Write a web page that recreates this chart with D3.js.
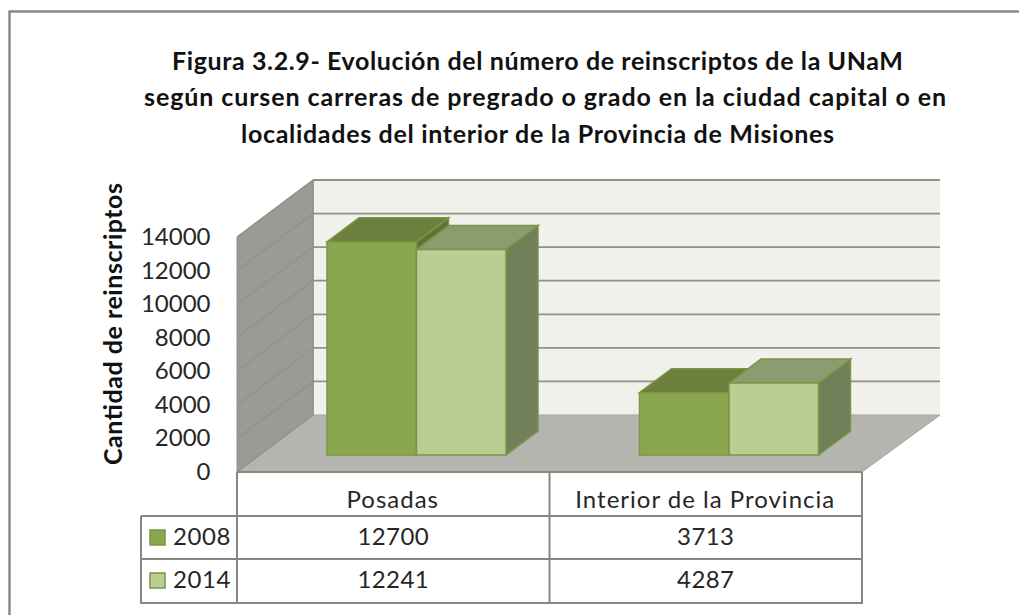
<!DOCTYPE html>
<html><head><meta charset="utf-8">
<script src="https://cdn.jsdelivr.net/npm/d3@7"></script>
<style>html,body{margin:0;padding:0;background:#fff;overflow:hidden}svg{display:block}text{font-family:Lato,"Open Sans",sans-serif}</style>
</head><body><div id="c"></div>
<script>
const categories = ["Posadas", "Interior de la Provincia"];
const seriesNames = ["2008", "2014"];
const values2008 = [12700, 3713];
const values2014 = [12241, 4287];
const yTicks = [0, 2000, 4000, 6000, 8000, 10000, 12000, 14000];
const titleLines = ["Figura 3.2.9- Evolución del número de reinscriptos de la UNaM",
  "según cursen carreras de pregrado o grado en la ciudad capital o en",
  "localidades del interior de la Provincia de Misiones"];
const yTitle = "Cantidad de reinscriptos";

const W = 1019, H = 615;
const svg = d3.select("#c").append("svg").attr("width", W).attr("height", H);
const frameCol = "#868686", gridCol = "#8f918a", txt = "#262626";
svg.append("rect").attr("x",9.5).attr("y",11.5).attr("width",1040).attr("height",640).attr("fill","#fff").attr("stroke",frameCol).attr("stroke-width",2.4);

const x = d3.scaleBand().domain(categories).range([237, 862]);
const y = d3.scaleLinear().domain([0,14000]).range([472,237]);
const dx = 76, dxR = 78, dy = -57;
const poly = (pts, fill, stroke, sw) => svg.append("polygon").attr("points", pts.map(p=>p.join(",")).join(" ")).attr("fill",fill).attr("stroke",stroke||"none").attr("stroke-width",sw||1);

// back wall, side wall, floor
const xL = x.range()[0], xR = x.range()[1];
poly([[xL+dx,y(14000)+dy],[xR+dxR,y(14000)+dy],[xR+dxR,y(0)+dy],[xL+dx,y(0)+dy]], "#eff1ea");
poly([[xL,y(14000)],[xL+dx,y(14000)+dy],[xL+dx,y(0)+dy],[xL,y(0)]], "#999b94", "#8f918a");
poly([[xL,y(0)],[xL+dx,y(0)+dy],[xR+dxR,y(0)+dy],[xR,y(0)]], "#b3b5ae", "#a3a59e");
yTicks.forEach(t=>{
  if (t>0) svg.append("line").attr("x1",xL+dx).attr("x2",xR+dxR).attr("y1",y(t)+dy).attr("y2",y(t)+dy).attr("stroke",gridCol).attr("stroke-width",1.8);
  svg.append("line").attr("x1",xL).attr("x2",xL+dx).attr("y1",y(t)).attr("y2",y(t)+dy).attr("stroke",gridCol).attr("stroke-width",1.2);
  svg.append("text").attr("x",210.5).attr("y",y(t)+8).attr("text-anchor","end").attr("font-size",24).attr("fill",txt).text(d3.format("d")(t));
});
svg.append("line").attr("x1",xL+dx).attr("x2",xL+dx).attr("y1",y(14000)+dy).attr("y2",y(0)+dy).attr("stroke",gridCol).attr("stroke-width",1.4);

// bars
const barInset = 90, barW = 89.5, bdx = 32, bdy = -24, baseY = 455;
const pxPer = (y(0)-y(1));
const styles = [
 {front:"#8aa64f", top:"#6c7f3c", side:"#5f7236", edge:"#7a9644"},
 {front:"#bacd95", top:"#8d9b70", side:"#728059", edge:"#7a9644"}
];
categories.forEach((c,i)=>{
  const x0 = x(c) + barInset;
  [values2008[i], values2014[i]].forEach((v,s)=>{
    const st = styles[s], l = x0 + s*barW, r = l + barW, t = baseY - v*pxPer;
    poly([[r,t],[r+bdx,t+bdy],[r+bdx,baseY+bdy],[r,baseY]], st.side, st.edge, 1.5);
    poly([[l,t],[l+bdx,t+bdy],[r+bdx,t+bdy],[r,t]], st.top, st.edge, 1.5);
    poly([[l,t],[r,t],[r,baseY],[l,baseY]], st.front, st.edge, 1.5);
  });
});

// data table
const rows = [472, 516, 559, 603], legL = 141;
const tl = (x1,y1,x2,y2)=>svg.append("line").attr("x1",x1).attr("y1",y1).attr("x2",x2).attr("y2",y2).attr("stroke",frameCol).attr("stroke-width",2);
tl(xL,rows[0],xR,rows[0]);
tl(legL,rows[1],xR,rows[1]); tl(legL,rows[2],xR,rows[2]); tl(legL-1,rows[3],xR+1,rows[3]);
tl(legL,rows[1],legL,rows[3]); tl(xL,rows[0],xL,rows[3]); tl(x(categories[1]),rows[0],x(categories[1]),rows[3]); tl(xR,rows[0],xR,rows[3]);
const cx = c => x(c)+x.bandwidth()/2;
categories.forEach((c,i)=>{
  svg.append("text").attr("x",cx(c)-0.5).attr("y",rows[0]+36).attr("text-anchor","middle").attr("font-size",24).attr("letter-spacing",1).attr("fill",txt).text(c);
  svg.append("text").attr("x",cx(c)).attr("y",rows[1]+29).attr("text-anchor","middle").attr("font-size",24).attr("letter-spacing",0.4).attr("fill",txt).text(values2008[i]);
  svg.append("text").attr("x",cx(c)).attr("y",rows[2]+29).attr("text-anchor","middle").attr("font-size",24).attr("letter-spacing",0.4).attr("fill",txt).text(values2014[i]);
});
seriesNames.forEach((n,s)=>{
  svg.append("rect").attr("x",150).attr("y",rows[s+1]+14).attr("width",15).attr("height",15).attr("fill",styles[s].front).attr("stroke",styles[s].edge).attr("stroke-width",1.5);
  svg.append("text").attr("x",173).attr("y",rows[s+1]+29).attr("font-size",24).attr("letter-spacing",0.6).attr("fill",txt).text(n);
});

// titles
const titleX = [537.5, 545, 537.5], titleY = [70, 106, 143], titleW = [731, 802, 593];
titleLines.forEach((t,i)=>svg.append("text").attr("x",titleX[i]).attr("y",titleY[i]).attr("text-anchor","middle").attr("font-size",25).attr("font-weight",700).attr("textLength",titleW[i]).attr("lengthAdjust","spacing").attr("fill","#111").text(t));
svg.append("text").attr("transform","translate(122,324) rotate(-90)").attr("text-anchor","middle").attr("font-size",25).attr("font-weight",700).attr("textLength",282).attr("lengthAdjust","spacing").attr("fill","#111").text(yTitle);
</script></body></html>
